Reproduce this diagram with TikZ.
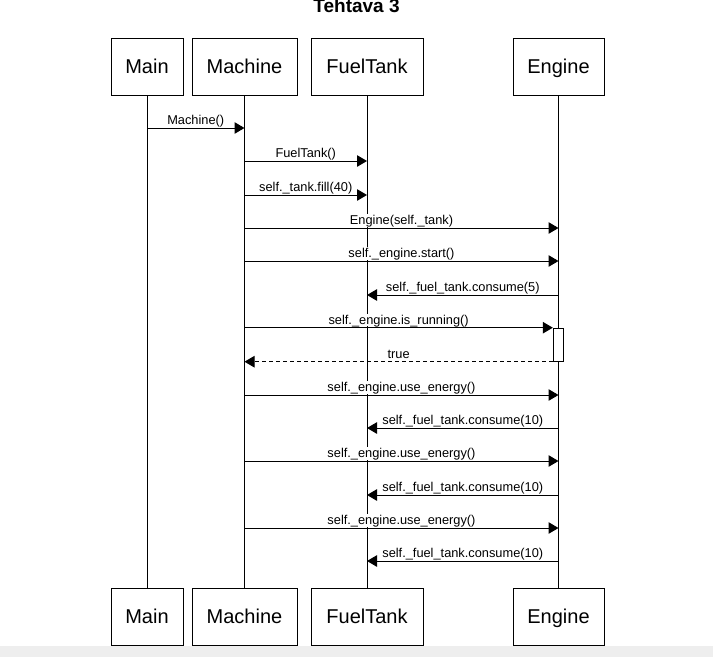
\documentclass[tikz,border=0pt]{standalone}
\usepackage{fontspec}
\setmainfont{Liberation Sans}
\usetikzlibrary{arrows.meta}
\tikzset{
    actor/.style={shape=rectangle,draw=black,fill=white,minimum width=#1,minimum height=57pt,inner sep=0pt,text height=14.3pt,text depth=0pt,font=\fontsize{20}{24}\selectfont},
    msg/.style={-{Triangle[length=10pt,width=11.5pt]}},
    reply/.style={msg,dash pattern=on 4pt off 3pt},
    lbl/.style={anchor=base,yshift=3.3pt,fill=white,inner sep=1pt,text depth=1pt,font=\fontsize{12.8}{15}\selectfont}
}
\begin{document}
\begin{tikzpicture}[x=1pt,y=-1pt,line width=1pt]
        \useasboundingbox (0,0) rectangle (713,657);
        \fill[gray!13] (0,645.5) rectangle (713,657);
        \node[anchor=base,font=\bfseries\fontsize{19}{23}\selectfont] (title) at (356.5,12.5) {Tehtava 3};
        % lifeline heads
        \node[actor=72pt] (main) at (147,66.5) {Main};
        \node[actor=105pt] (mach) at (244.5,66.5) {Machine};
        \node[actor=112pt] (tank) at (367,66.5) {FuelTank};
        \node[actor=91pt] (eng) at (558.5,66.5) {Engine};
        % lifeline feet
        \node[actor=72pt] (mainb) at (147,616.5) {Main};
        \node[actor=105pt] (machb) at (244.5,616.5) {Machine};
        \node[actor=112pt] (tankb) at (367,616.5) {FuelTank};
        \node[actor=91pt] (engb) at (558.5,616.5) {Engine};
        \path [-](main) edge (mainb);
        \path [-](mach) edge (machb);
        \path [-](tank) edge (tankb);
        \path [-](eng) edge (engb);
        \node[shape=rectangle,draw=black,fill=white,minimum width=10pt,minimum height=33pt,inner sep=0pt] (act) at (558.3,344.7) {};
        % messages
        \draw[msg] (main |- 0,128) -- node[lbl]{Machine()} (mach |- 0,128);
        \draw[msg] (mach |- 0,161) -- node[lbl]{FuelTank()} (tank |- 0,161);
        \draw[msg] (mach |- 0,195) -- node[lbl]{self.\_tank.fill(40)} (tank |- 0,195);
        \draw[msg] (mach |- 0,228) -- node[lbl]{Engine(self.\_tank)} (eng |- 0,228);
        \draw[msg] (mach |- 0,261) -- node[lbl]{self.\_engine.start()} (eng |- 0,261);
        \draw[msg] (eng |- 0,295) -- node[lbl]{self.\_fuel\_tank.consume(5)} (tank |- 0,295);
        \draw[msg] (mach |- act.north) -- node[lbl]{self.\_engine.is\_running()} (act.north west);
        \draw[reply] (act.south west) -- node[lbl]{true} (mach |- act.south);
        \draw[msg] (mach |- 0,395) -- node[lbl]{self.\_engine.use\_energy()} (eng |- 0,395);
        \draw[msg] (eng |- 0,428) -- node[lbl]{self.\_fuel\_tank.consume(10)} (tank |- 0,428);
        \draw[msg] (mach |- 0,461) -- node[lbl]{self.\_engine.use\_energy()} (eng |- 0,461);
        \draw[msg] (eng |- 0,495) -- node[lbl]{self.\_fuel\_tank.consume(10)} (tank |- 0,495);
        \draw[msg] (mach |- 0,528) -- node[lbl]{self.\_engine.use\_energy()} (eng |- 0,528);
        \draw[msg] (eng |- 0,561) -- node[lbl]{self.\_fuel\_tank.consume(10)} (tank |- 0,561);
    \end{tikzpicture}
\end{document}
